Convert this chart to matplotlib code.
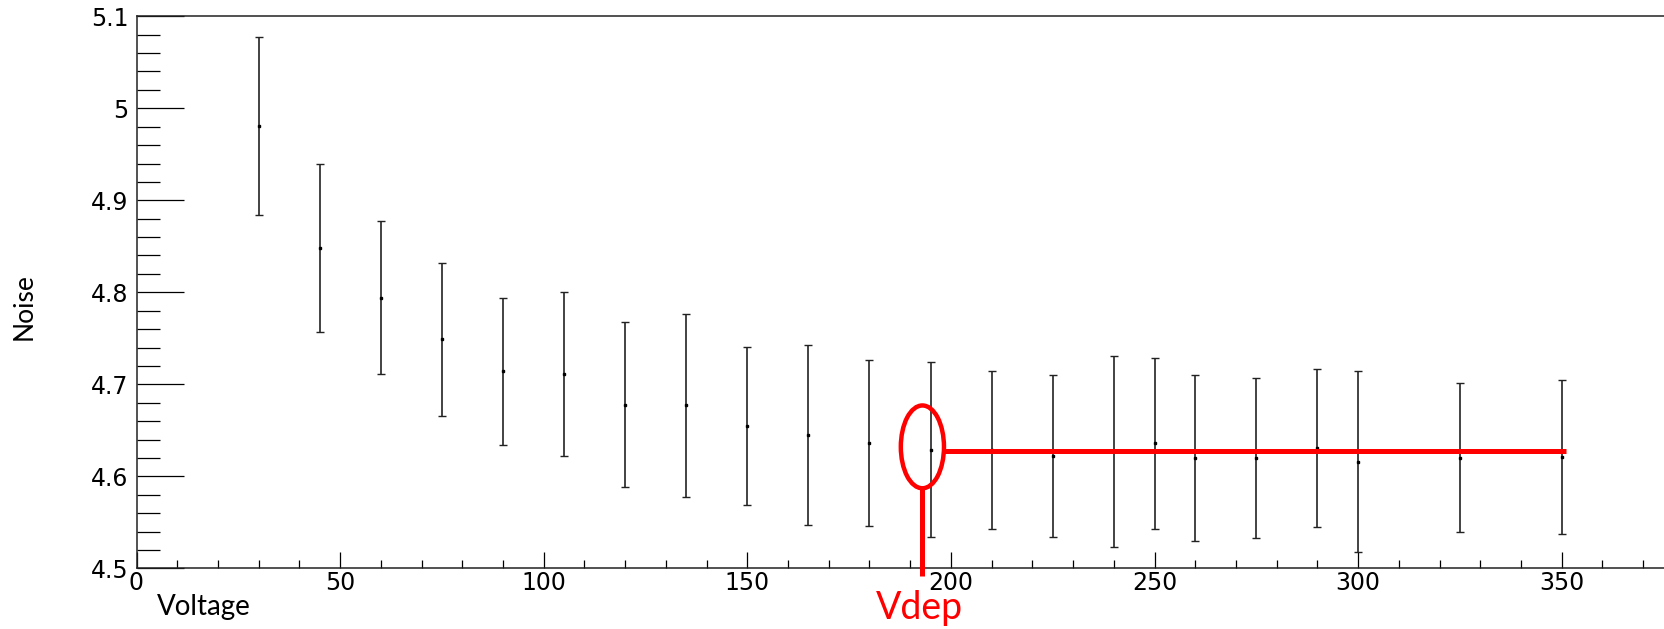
import matplotlib.pyplot as plt
from matplotlib.patches import Ellipse
from matplotlib.ticker import MultipleLocator

# bias scan: mean noise per voltage step with its spread
voltage = [30, 45, 60, 75, 90, 105, 120, 135, 150, 165, 180,
           195, 210, 225, 240, 250, 260, 275, 290, 300, 325, 350]
noise = [4.981, 4.848, 4.794, 4.749, 4.714, 4.711, 4.678, 4.677, 4.655, 4.645, 4.636,
         4.629, 4.629, 4.622, 4.627, 4.636, 4.620, 4.620, 4.631, 4.616, 4.620, 4.621]
noise_err = [0.097, 0.091, 0.083, 0.083, 0.080, 0.089, 0.090, 0.099, 0.086, 0.098, 0.090,
             0.095, 0.086, 0.088, 0.104, 0.093, 0.090, 0.087, 0.086, 0.098, 0.081, 0.084]

# depletion voltage and the plateau level it reaches
V_DEP = 193
PLATEAU = 4.628
PLATEAU_END = 351

W, H, DPI = 1664, 629, 100
fig = plt.figure(figsize=(W / DPI, H / DPI), dpi=DPI)
ax = fig.add_axes([136.5 / W, 1 - 568.3 / H, 1 - 136.5 / W, (568.3 - 16.3) / H])

ax.errorbar(voltage, noise, yerr=noise_err, fmt="s", ms=1.8, color="black",
            ecolor="#222222", elinewidth=1.2, capsize=3, capthick=1.0)

ax.set_xlim(0, (W - 136.5) / 4.072)
ax.set_ylim(4.5, 5.1)
ax.xaxis.set_major_locator(MultipleLocator(50))
ax.xaxis.set_minor_locator(MultipleLocator(10))
ax.yaxis.set_major_locator(MultipleLocator(0.1))
ax.yaxis.set_minor_locator(MultipleLocator(0.02))
ax.yaxis.set_major_formatter(plt.FuncFormatter(lambda v, _: f"{v:g}"))

ax.tick_params(axis="x", which="major", direction="in", length=11.5, width=0.9,
               labelsize=17, pad=2, top=False)
ax.tick_params(axis="x", which="minor", direction="in", length=5.8, width=0.9, top=False)
ax.tick_params(axis="y", which="major", direction="in", length=34, width=0.9,
               labelsize=17, pad=6, right=False)
ax.tick_params(axis="y", which="minor", direction="in", length=16.5, width=0.9, right=False)
for lbl in ax.get_xticklabels() + ax.get_yticklabels():
    lbl.set_family("DejaVu Sans")

ax.spines["right"].set_visible(False)
for side in ("left", "bottom", "top"):
    ax.spines[side].set_linewidth(1.1)
    ax.spines[side].set_color("#222222")

# red markup: circled Vdep point, plateau line, drop line to the axis
red = "#ff0000"
ell_w, ell_h = 10.6, 0.090
ax.add_patch(Ellipse((V_DEP, PLATEAU + 0.004), ell_w, ell_h, fill=False,
                     edgecolor=red, lw=3.2, zorder=5))
ax.plot([V_DEP + ell_w / 2, PLATEAU_END], [PLATEAU, PLATEAU], color=red, lw=3.6,
        solid_capstyle="butt", zorder=5)
ax.plot([V_DEP, V_DEP], [PLATEAU + 0.004 - ell_h / 2, 4.492], color=red, lw=3.6,
        solid_capstyle="butt", clip_on=False, zorder=5)

fig.text(919 / W, 1 - 626 / H, "Vdep", color=red, fontsize=27, family="Lato",
         ha="center", va="bottom")
fig.text(157 / W, 1 - 607 / H, "Voltage", color="black", fontsize=20, family="Lato",
         ha="left", va="center")
fig.text(24 / W, 1 - 307 / H, "Noise", color="black", fontsize=19, family="Lato",
         rotation=90, ha="center", va="center")

fig.savefig("out.png", dpi=DPI)
